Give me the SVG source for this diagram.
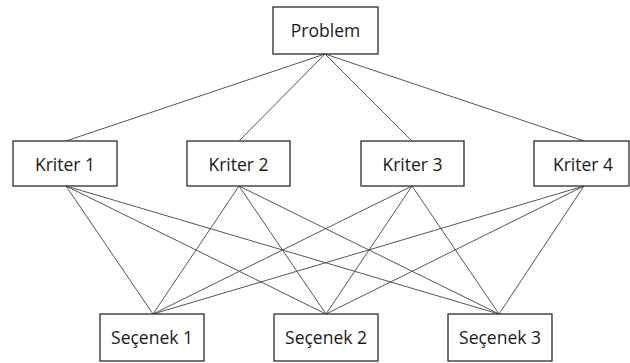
<svg xmlns="http://www.w3.org/2000/svg" width="630" height="363" viewBox="0 0 630 363">
<style>
.box{fill:#fff;stroke:#2b2b2b;stroke-width:1.3}
.lbl{font-family:"Open Sans","Noto Sans",sans-serif;font-size:17.5px;fill:#1a1a1a;text-anchor:middle;dominant-baseline:central}
.c line{stroke:#555;stroke-width:1}
</style>
<rect width="630" height="363" fill="#fff"/>
<g class="c" id="connectors">
<line x1="325" y1="54" x2="66" y2="141"/>
<line x1="325" y1="54" x2="239" y2="141"/>
<line x1="325" y1="54" x2="412" y2="141"/>
<line x1="325" y1="54" x2="584" y2="141"/>
<line x1="66" y1="186" x2="153" y2="314"/>
<line x1="66" y1="186" x2="326" y2="314"/>
<line x1="66" y1="186" x2="499" y2="314"/>
<line x1="239" y1="186" x2="153" y2="314"/>
<line x1="239" y1="186" x2="326" y2="314"/>
<line x1="239" y1="186" x2="499" y2="314"/>
<line x1="412" y1="186" x2="153" y2="314"/>
<line x1="412" y1="186" x2="326" y2="314"/>
<line x1="412" y1="186" x2="499" y2="314"/>
<line x1="584" y1="186" x2="153" y2="314"/>
<line x1="584" y1="186" x2="326" y2="314"/>
<line x1="584" y1="186" x2="499" y2="314"/>
</g>
<g id="problem"><rect class="box" x="273" y="7" width="105" height="47"/><text class="lbl" x="325.5" y="30">Problem</text></g>
<g id="kriter1"><rect class="box" x="13" y="141" width="104" height="45"/><text class="lbl" x="65" y="163.5">Kriter 1</text></g>
<g id="kriter2"><rect class="box" x="187" y="141" width="103" height="45"/><text class="lbl" x="238.5" y="163.5">Kriter 2</text></g>
<g id="kriter3"><rect class="box" x="361" y="141" width="103" height="45"/><text class="lbl" x="412.5" y="163.5">Kriter 3</text></g>
<g id="kriter4"><rect class="box" x="534" y="141" width="95" height="45"/><text class="lbl" x="583" y="163.5">Kriter 4</text></g>
<g id="secenek1"><rect class="box" x="100" y="314" width="104" height="47"/><text class="lbl" x="152" y="337">Seçenek 1</text></g>
<g id="secenek2"><rect class="box" x="274" y="314" width="104" height="47"/><text class="lbl" x="326" y="337">Seçenek 2</text></g>
<g id="secenek3"><rect class="box" x="448" y="314" width="104" height="47"/><text class="lbl" x="500" y="337">Seçenek 3</text></g>
</svg>
